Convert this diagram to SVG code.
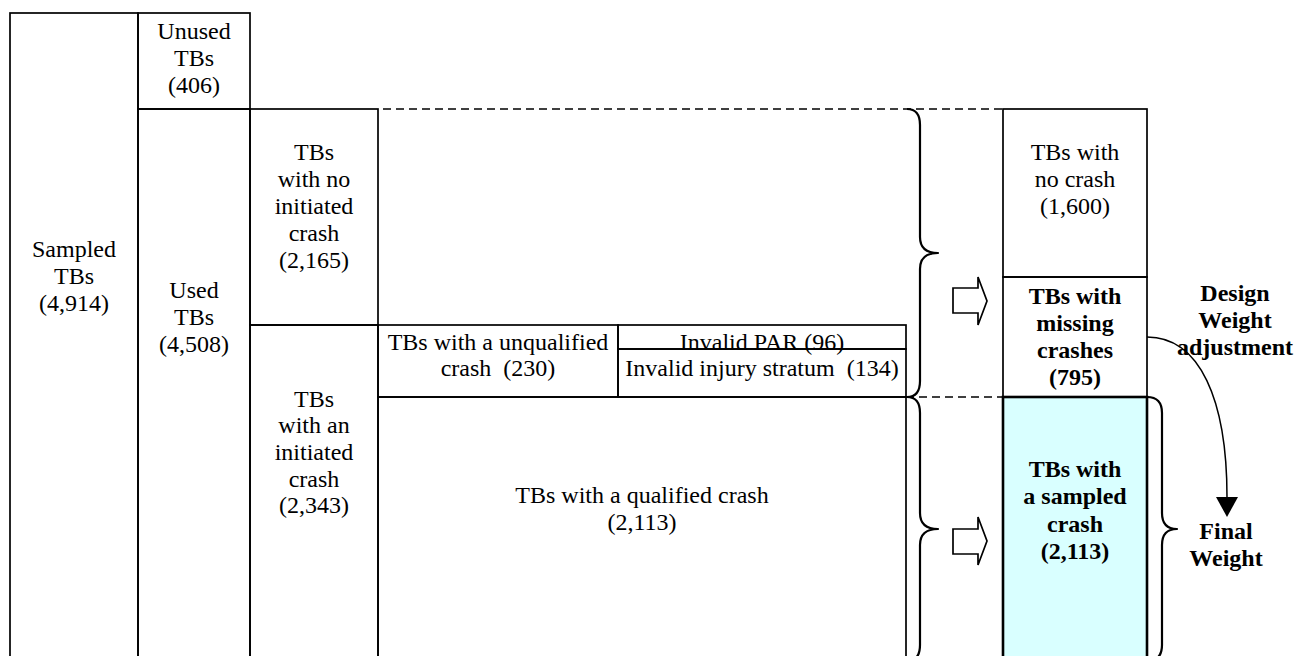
<svg xmlns="http://www.w3.org/2000/svg" width="1307" height="656" viewBox="0 0 1307 656">
<defs>
<style>
.b{fill:none;stroke:#000;stroke-width:1.7}
.w{fill:#fff;stroke:#000;stroke-width:1.7}
.t{font-family:"Liberation Serif","Times New Roman",serif;font-size:24px;fill:#000;text-anchor:middle}
.bd{font-weight:bold}
.dash{fill:none;stroke:#000;stroke-width:1.5;stroke-dasharray:8 5}
.br{fill:none;stroke:#000;stroke-width:2.2;stroke-linejoin:round}
</style>
<marker id="ah" markerUnits="userSpaceOnUse" markerWidth="22" markerHeight="22" refX="0" refY="11" orient="auto">
<path d="M0,0 L20,11 L0,22 Z" fill="#000"/>
</marker>
</defs>
<rect width="1307" height="656" fill="#fff"/>
<g id="sampled">
<rect class="b" x="10" y="13" width="128" height="660"/>
<text class="t" x="74" y="257">Sampled</text>
<text class="t" x="74" y="284">TBs</text>
<text class="t" x="74" y="311">(4,914)</text>
</g>
<g id="unused">
<rect class="b" x="138" y="13" width="112" height="96"/>
<text class="t" x="194" y="39">Unused</text>
<text class="t" x="194" y="66">TBs</text>
<text class="t" x="194" y="93">(406)</text>
</g>
<g id="used">
<rect class="b" x="138" y="109" width="112" height="564"/>
<text class="t" x="194" y="298">Used</text>
<text class="t" x="194" y="325">TBs</text>
<text class="t" x="194" y="352">(4,508)</text>
</g>
<g id="no-initiated">
<rect class="b" x="250" y="109" width="128" height="216"/>
<text class="t" x="314" y="160">TBs</text>
<text class="t" x="314" y="187">with no</text>
<text class="t" x="314" y="214">initiated</text>
<text class="t" x="314" y="241">crash</text>
<text class="t" x="314" y="268">(2,165)</text>
</g>
<g id="initiated">
<rect class="b" x="250" y="325" width="128" height="348"/>
<text class="t" x="314" y="407">TBs</text>
<text class="t" x="314" y="433">with an</text>
<text class="t" x="314" y="460">initiated</text>
<text class="t" x="314" y="487">crash</text>
<text class="t" x="314" y="513">(2,343)</text>
</g>
<g id="unqualified">
<rect class="b" x="378" y="325" width="240" height="72"/>
<text class="t" x="498" y="350">TBs with a unqualified</text>
<text class="t" x="498" y="376" xml:space="preserve">crash  (230)</text>
</g>
<g id="invalid-par">
<rect class="b" x="618" y="325" width="288" height="24"/>
<text class="t" x="762" y="350">Invalid PAR (96)</text>
</g>
<g id="invalid-injury">
<rect class="b" x="618" y="349" width="288" height="48"/>
<text class="t" x="762" y="376" xml:space="preserve">Invalid injury stratum  (134)</text>
</g>
<g id="qualified">
<rect class="b" x="378" y="397" width="528" height="276"/>
<text class="t" x="642" y="503">TBs with a qualified crash</text>
<text class="t" x="642" y="530">(2,113)</text>
</g>
<g id="no-crash">
<rect class="b" x="1003" y="109" width="144" height="168"/>
<text class="t" x="1075" y="160">TBs with</text>
<text class="t" x="1075" y="187">no crash</text>
<text class="t" x="1075" y="214">(1,600)</text>
</g>
<g id="missing">
<rect class="b" x="1003" y="277" width="144" height="120"/>
<text class="t bd" x="1075" y="304">TBs with</text>
<text class="t bd" x="1075" y="331">missing</text>
<text class="t bd" x="1075" y="358">crashes</text>
<text class="t bd" x="1075" y="385">(795)</text>
</g>
<g id="sampled-crash">
<rect x="1003" y="397" width="144" height="276" fill="#d9ffff" stroke="#000" stroke-width="2.6"/>
<text class="t bd" x="1075" y="477">TBs with</text>
<text class="t bd" x="1075" y="504">a sampled</text>
<text class="t bd" x="1075" y="532">crash</text>
<text class="t bd" x="1075" y="559">(2,113)</text>
</g>
<g id="design-label">
<text class="t bd" x="1235" y="301">Design</text>
<text class="t bd" x="1235" y="328">Weight</text>
<text class="t bd" x="1235" y="355">adjustment</text>
</g>
<g id="final-label">
<text class="t bd" x="1226" y="539">Final</text>
<text class="t bd" x="1226" y="566">Weight</text>
</g>
<g id="connectors">
<path class="dash" d="M383,109 H1003"/>
<path class="dash" d="M906,397 H1003"/>
<path class="br" d="M907,109 Q920,109 920,125 L920,237 Q920,253 938,253 Q920,253 920,269 L920,381 Q920,397 907,397"/>
<path class="br" d="M907,397 Q920,397 920,413 L920,513 Q920,529 938,529 Q920,529 920,545 L920,645 Q920,661 907,661"/>
<path class="br" stroke-width="2.8" d="M1147,397 Q1162,397 1162,413 L1162,513 Q1162,529 1177,529 Q1162,529 1162,545 L1162,645 Q1162,661 1147,661"/>
<path class="w" stroke-width="1.5" d="M953,288 L978,288 L978,277 L987,301 L978,325 L978,313 L953,313 Z"/>
<path class="w" stroke-width="1.5" d="M953,529 L978,529 L978,517 L987,541 L978,565 L978,554 L953,554 Z"/>
<path fill="none" stroke="#000" stroke-width="1.5" d="M1147,337 C1200,337 1227,400 1227,497" marker-end="url(#ah)"/>
</g>
</svg>
